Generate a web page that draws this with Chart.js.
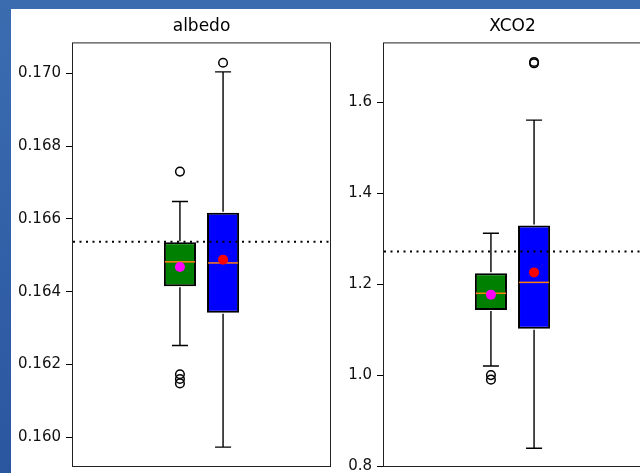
<!DOCTYPE html>
<html>
<head>
<meta charset="utf-8">
<script src="https://cdn.jsdelivr.net/npm/chart.js"></script>
<style>
    body {
        margin: 0;
        width: 640px;
        height: 473px;
        overflow: hidden;
        position: relative;
        background: linear-gradient(to bottom, #3b6cb0, #2a56a0);
        font-family: 'DejaVu Sans', sans-serif;
    }
    #sheet {
        position: absolute;
        left: 11px;
        top: 9px;
        right: 0;
        bottom: 0;
        background: #ffffff;
    }
    canvas {
        position: absolute;
        top: 0;
    }
    #albedoChart { left: 0; }
    #xco2Chart { left: 340px; }
</style>
</head>
<body>
<div id="sheet"></div>
<canvas id="albedoChart" width="403" height="473"></canvas>
<canvas id="xco2Chart" width="345" height="473"></canvas>
<script>
// each array holds [green box, blue box]
const albedoLow = [0.16252, 0.15973];
const albedoQ1 = [0.16415, 0.16342];
const albedoMedian = [0.16482, 0.16479];
const albedoQ3 = [0.16536, 0.16617];
const albedoHigh = [0.16648, 0.17004];
const albedoMean = [0.16468, 0.16488];
const albedoOutliers = [[0.16730, 0.16173, 0.16160, 0.16148], [0.17029]];
const albedoRef = 0.16537;
const albedoTicks = [0.160, 0.162, 0.164, 0.166, 0.168, 0.170];
const albedoRange = [0.15921, 0.17085];

const xco2Low = [1.020, 0.839];
const xco2Q1 = [1.143, 1.102];
const xco2Median = [1.180, 1.204];
const xco2Q3 = [1.224, 1.329];
const xco2High = [1.312, 1.561];
const xco2Mean = [1.177, 1.226];
const xco2Outliers = [[1.000, 0.990], [1.686, 1.689]];
const xco2Ref = 1.272;
const xco2Ticks = [0.8, 1.0, 1.2, 1.4, 1.6];
const xco2Range = [0.8, 1.732];

const boxColors = ['#008000', '#0000ff'];
const meanColors = ['#ff00ff', '#ff0000'];

function makeChart(id, title, low, q1, median, q3, high, mean, outliers, ref, ticks, range, decimals, axisWidth) {
    // whiskers, medians, means, fliers, reference line and frame
    const extras = {
        id: 'extras_' + id,
        afterDatasetsDraw(chart) {
            const ctx = chart.ctx;
            const y = chart.scales.y;
            const area = chart.chartArea;
            ctx.save();
            for (let i = 0; i < 2; i++) {
                const bar = chart.getDatasetMeta(i).data[0];
                const x = bar.x;
                const half = bar.width / 2;
                const cap = bar.width / 4;
                const yLow = y.getPixelForValue(low[i]);
                const yHigh = y.getPixelForValue(high[i]);

                ctx.strokeStyle = '#000';
                ctx.lineWidth = 1.4;
                ctx.beginPath();
                ctx.moveTo(x, y.getPixelForValue(q3[i]) - 1);
                ctx.lineTo(x, yHigh);
                ctx.moveTo(x - cap, yHigh);
                ctx.lineTo(x + cap, yHigh);
                ctx.moveTo(x, y.getPixelForValue(q1[i]) + 1);
                ctx.lineTo(x, yLow);
                ctx.moveTo(x - cap, yLow);
                ctx.lineTo(x + cap, yLow);
                ctx.stroke();

                ctx.strokeStyle = '#ff7f0e';
                ctx.lineWidth = 1.5;
                ctx.beginPath();
                const yMed = y.getPixelForValue(median[i]);
                ctx.moveTo(x - half + 1, yMed);
                ctx.lineTo(x + half - 1, yMed);
                ctx.stroke();

                ctx.strokeStyle = '#000';
                ctx.lineWidth = 1.5;
                outliers[i].forEach(v => {
                    ctx.beginPath();
                    ctx.arc(x, y.getPixelForValue(v), 4.3, 0, Math.PI * 2);
                    ctx.stroke();
                });

                ctx.fillStyle = meanColors[i];
                ctx.beginPath();
                ctx.arc(x, y.getPixelForValue(mean[i]), 5, 0, Math.PI * 2);
                ctx.fill();
            }

            ctx.strokeStyle = '#000';
            ctx.lineWidth = 2;
            ctx.setLineDash([2, 4.5]);
            ctx.beginPath();
            const yRef = y.getPixelForValue(ref);
            ctx.moveTo(area.left + 1, yRef);
            ctx.lineTo(area.right, yRef);
            ctx.stroke();

            ctx.setLineDash([]);
            ctx.lineWidth = 1;
            ctx.strokeStyle = '#222';
            ctx.strokeRect(area.left + 0.5, area.top + 0.5, area.right - area.left - 1, area.bottom - area.top);
            ctx.restore();
        }
    };

    return new Chart(document.getElementById(id), {
        type: 'bar',
        data: {
            labels: [''],
            datasets: [0, 1].map(i => ({
                data: [[q1[i], q3[i]]],
                backgroundColor: boxColors[i],
                borderColor: '#000',
                borderWidth: 2,
                borderSkipped: false,
                categoryPercentage: 0.333,
                barPercentage: 0.744
            }))
        },
        options: {
            responsive: false,
            animation: false,
            events: [],
            layout: { padding: { left: 0, right: 0, top: 0, bottom: 7 } },
            plugins: {
                legend: { display: false },
                tooltip: { enabled: false },
                title: {
                    display: true,
                    text: title,
                    color: '#000',
                    font: { family: 'DejaVu Sans', size: 17, weight: 'normal' },
                    padding: { top: 16, bottom: 6 }
                }
            },
            scales: {
                x: { display: false },
                y: {
                    min: range[0],
                    max: range[1],
                    afterFit: s => { s.width = axisWidth; s.paddingTop = 0; s.paddingBottom = 0; },
                    afterBuildTicks: s => { s.ticks = ticks.map(v => ({ value: v })); },
                    border: { display: false },
                    grid: { drawOnChartArea: false, drawTicks: true, tickLength: 6, color: '#000' },
                    ticks: {
                        color: '#111',
                        padding: 5,
                        font: { family: 'DejaVu Sans', size: 15 },
                        callback: v => Number(v).toFixed(decimals)
                    }
                },
                // empty mirror axis so the title centres over the plot box
                spacer: {
                    type: 'linear',
                    position: 'right',
                    afterFit: s => { s.width = axisWidth; s.paddingTop = 0; s.paddingBottom = 0; },
                    border: { display: false },
                    grid: { display: false },
                    ticks: { display: false }
                }
            }
        },
        plugins: [extras]
    });
}

makeChart('albedoChart', 'albedo', albedoLow, albedoQ1, albedoMedian, albedoQ3, albedoHigh, albedoMean,
    albedoOutliers, albedoRef, albedoTicks, albedoRange, 3, 72);
makeChart('xco2Chart', 'XCO2', xco2Low, xco2Q1, xco2Median, xco2Q3, xco2High, xco2Mean,
    xco2Outliers, xco2Ref, xco2Ticks, xco2Range, 1, 43);
</script>
</body>
</html>
